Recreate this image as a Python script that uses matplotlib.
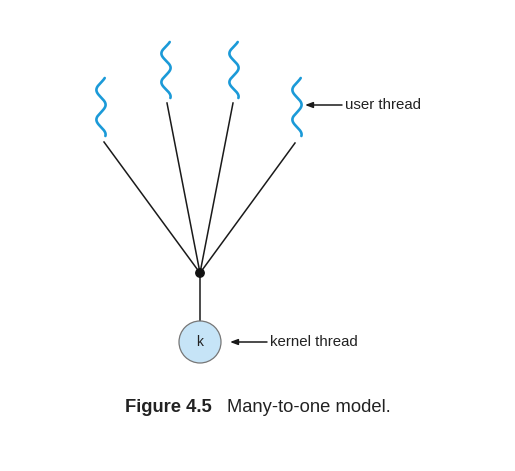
import numpy as np
import matplotlib
matplotlib.use("Agg")
import matplotlib.pyplot as plt
from matplotlib.patches import Circle

# user threads: centre x, top y, bottom y (pixel space of the diagram)
thread_cx = [101, 166, 234, 297]
thread_top = [78, 42, 42, 78]
thread_bot = [136, 98, 98, 136]
# start points of the connecting lines (below each thread)
line_start_x = [104, 167, 233, 295]
line_start_y = [142, 103, 103, 143]
junction = (200, 273)
kernel_center = (200, 342)
kernel_r = 21
labels = {"user": "user thread", "kernel": "kernel thread", "k": "k"}
caption_bold = "Figure 4.5"
caption_text = "Many-to-one model."

W, H = 515, 471
fig = plt.figure(figsize=(W / 100, H / 100), dpi=100)
ax = fig.add_axes([0, 0, 1, 1])
ax.set_xlim(0, W)
ax.set_ylim(H, 0)
ax.axis("off")
fig.patch.set_facecolor("white")

plt.rcParams['font.family'] = ['Liberation Sans', 'DejaVu Sans']

blue = "#1b9ad8"
A = 4.6
t = np.linspace(0, 1, 300)
for cx, top, bot in zip(thread_cx, thread_top, thread_bot):
    y = top + t * (bot - top)
    x = cx - A * np.sin(2 * np.pi * 1.95 * t - 0.3 * np.pi)
    ax.plot(x, y, color=blue, lw=1.9, solid_capstyle="round")

for sx, sy in zip(line_start_x, line_start_y):
    ax.plot([sx, junction[0]], [sy, junction[1]], color="#1a1a1a", lw=1.1)

ax.plot([junction[0], kernel_center[0]], [junction[1], kernel_center[1] - kernel_r],
        color="#1a1a1a", lw=1.1)
ax.add_patch(Circle(junction, 4.2, color="#111111", zorder=5))

ax.add_patch(Circle(kernel_center, kernel_r, facecolor="#c6e4f7",
                    edgecolor="#777777", lw=0.9, zorder=4))
ax.text(kernel_center[0], kernel_center[1], labels["k"], ha="center", va="center",
        fontsize=10, color="#222222", zorder=6)

arrowprops = dict(arrowstyle="-|>,head_length=0.45,head_width=0.17",
                  color="#1a1a1a", lw=1.1, shrinkA=0, shrinkB=0)
ax.annotate("", xy=(305, 105), xytext=(342, 105), arrowprops=arrowprops)
ax.text(345, 105, labels["user"], ha="left", va="center", fontsize=10.8,
        color="#222222")

ax.annotate("", xy=(230, 342), xytext=(267, 342), arrowprops=arrowprops)
ax.text(270, 342, labels["kernel"], ha="left", va="center", fontsize=10.8,
        color="#222222")

ax.text(125, 408, caption_bold, ha="left", va="center", fontsize=13.2,
        fontweight="bold", color="#222222")
ax.text(227, 408, caption_text, ha="left", va="center", fontsize=13.2,
        color="#222222")

fig.savefig("out.png", dpi=100, facecolor="white")
